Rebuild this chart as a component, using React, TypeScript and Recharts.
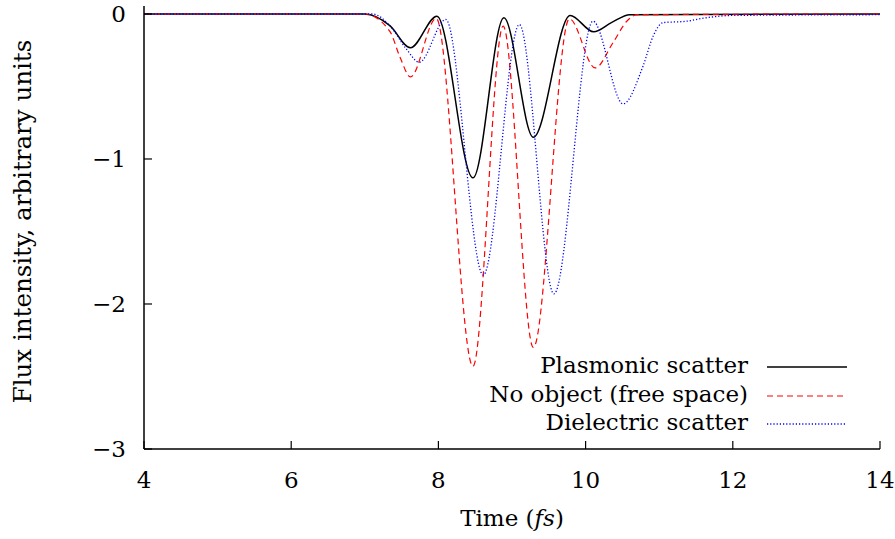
import { LineChart, Line, XAxis, YAxis, Legend } from 'recharts'

// time axis (fs) and flux values, one pair of arrays per curve
const plasmonicTime = [4, 7.0, 7.34, 7.62, 7.98, 8.47, 8.89, 9.29, 9.79, 10.11, 10.35, 10.6, 14]
const plasmonicFlux = [0, 0, -0.08, -0.233, -0.015, -1.13, -0.026, -0.85, -0.01, -0.123, -0.06, -0.005, 0]

const freeTime = [4, 7.0, 7.34, 7.48, 7.62, 7.97, 8.47, 8.88, 9.29, 9.78, 10.13, 10.37, 10.56, 10.7, 14]
const freeFlux = [0, 0, -0.12, -0.3, -0.434, -0.03, -2.43, -0.084, -2.3, -0.033, -0.372, -0.2, -0.05, -0.005, 0]

const dielectricTime = [4, 7.1, 7.34, 7.57, 7.74, 8.1, 8.61, 9.1, 9.57, 10.1, 10.51, 10.78, 10.92, 11.05, 11.37, 11.64, 12.0, 14]
const dielectricFlux = [0, 0, -0.08, -0.245, -0.333, -0.038, -1.8, -0.073, -1.93, -0.05, -0.62, -0.36, -0.15, -0.06, -0.05, -0.026, -0.01, -0.005]

const xTicks = [4, 6, 8, 10, 12, 14]
const yTicks = [-3, -2, -1, 0]

const seriesNames = ['Plasmonic scatter', 'No object (free space)', 'Dielectric scatter']

const toPoints = (t: number[], v: number[]) => t.map((time, i) => ({ time, flux: v[i] }))

const FONT = '"DejaVu Serif", "Liberation Serif", serif'
const FS = 23

const fmtY = (v: number) => (v < 0 ? '\u2212' + Math.abs(v) : String(v))

const legendItems = [
  { name: seriesNames[0], color: '#000000', dash: undefined, width: 1.5 },
  { name: seriesNames[1], color: '#ff0000', dash: '6 4', width: 1.2 },
  { name: seriesNames[2], color: '#0000ff', dash: '1.2 2', width: 1.3 },
]

const renderLegend = () => (
  <div style={{ fontFamily: FONT, fontSize: FS }}>
    {legendItems.map(item => (
      <div key={item.name} style={{ display: 'flex', height: 28.5, lineHeight: '28.5px' }}>
        <div style={{ width: 268, textAlign: 'right', whiteSpace: 'nowrap', color: '#000' }}>{item.name}</div>
        <svg width={99} height={28.5} style={{ display: 'block' }}>
          <line x1={19} x2={99} y1={16} y2={16} stroke={item.color} strokeWidth={item.width} strokeDasharray={item.dash} />
        </svg>
      </div>
    ))}
  </div>
)

const YLabel = (props: any) => {
  const { viewBox } = props
  const cx = viewBox.x + 31
  const cy = viewBox.y + viewBox.height / 2 - 6
  return (
    <text transform={`translate(${cx}, ${cy}) rotate(-90)`} textAnchor="middle" fontFamily={FONT} fontSize={24.5} fill="#000">
      Flux intensity, arbitrary units
    </text>
  )
}

const XLabel = (props: any) => {
  const { viewBox } = props
  return (
    <text x={viewBox.x + viewBox.width / 2} y={viewBox.y + 77} textAnchor="middle" fontFamily={FONT} fontSize={FS} fill="#000">
      Time (<tspan fontStyle="italic">fs</tspan>)
    </text>
  )
}

export default function App() {
  const tickStyle = { fontFamily: FONT, fontSize: FS, fill: '#000' }
  const axisLine = { stroke: '#000', strokeWidth: 1.5 }
  const tickLine = { stroke: '#000', strokeWidth: 1.2 }

  return (
    <div style={{ position: 'absolute', left: 0, top: 0, background: '#fff' }}>
      <LineChart width={895} height={539} margin={{ top: 6, right: 15, bottom: 0, left: 0 }}>
        <XAxis
          type="number"
          dataKey="time"
          domain={[4, 14]}
          ticks={xTicks}
          allowDataOverflow
          height={90}
          tickSize={-8}
          tickMargin={31}
          tick={tickStyle}
          axisLine={axisLine}
          tickLine={tickLine}
          label={<XLabel />}
        />
        <XAxis
          xAxisId="top"
          orientation="top"
          type="number"
          dataKey="time"
          domain={[4, 14]}
          ticks={xTicks}
          height={0}
          tickSize={-8}
          tick={false}
          axisLine={axisLine}
          tickLine={tickLine}
        />
        <YAxis
          type="number"
          domain={[-3, 0.055]}
          ticks={yTicks}
          allowDataOverflow
          width={144}
          tickSize={-8}
          tickMargin={26}
          tick={tickStyle}
          tickFormatter={fmtY}
          axisLine={axisLine}
          tickLine={tickLine}
          label={<YLabel />}
        />
        <YAxis
          yAxisId="right"
          orientation="right"
          type="number"
          domain={[-3, 0.055]}
          ticks={yTicks}
          width={0}
          tickSize={-8}
          tick={false}
          axisLine={axisLine}
          tickLine={tickLine}
        />
        <Legend
          content={renderLegend}
          layout="horizontal"
          verticalAlign="middle"
          align="center"
          wrapperStyle={{ left: 480, top: 351, width: 380 }}
        />
        <Line
          data={toPoints(plasmonicTime, plasmonicFlux)}
          dataKey="flux"
          name={seriesNames[0]}
          type="monotone"
          stroke="#000000"
          strokeWidth={1.5}
          dot={false}
          isAnimationActive={false}
        />
        <Line
          data={toPoints(freeTime, freeFlux)}
          dataKey="flux"
          name={seriesNames[1]}
          type="monotone"
          stroke="#ff0000"
          strokeWidth={1.2}
          strokeDasharray="6 4"
          dot={false}
          isAnimationActive={false}
        />
        <Line
          data={toPoints(dielectricTime, dielectricFlux)}
          dataKey="flux"
          name={seriesNames[2]}
          type="monotone"
          stroke="#0000ff"
          strokeWidth={1.3}
          strokeDasharray="1.2 2"
          dot={false}
          isAnimationActive={false}
        />
      </LineChart>
    </div>
  )
}
